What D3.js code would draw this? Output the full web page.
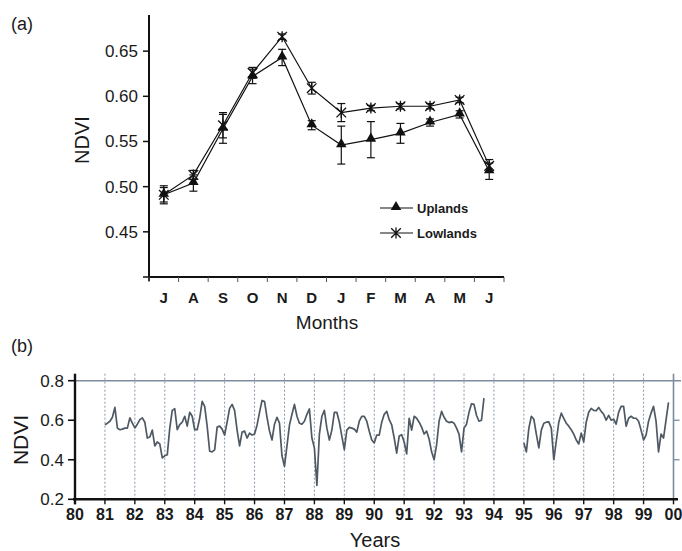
<!DOCTYPE html>
<html>
<head>
<meta charset="utf-8">
<script src="https://cdn.jsdelivr.net/npm/d3@7/dist/d3.min.js"></script>
<style>
    body { margin: 0; background: #fff; }
    svg text { font-family: "Liberation Sans", Arial, sans-serif; fill: #1a1a1a; }
</style>
</head>
<body>
<div id="chart"></div>
<script>
'use strict';

// (a) monthly mean NDVI
var months = ["J", "A", "S", "O", "N", "D", "J", "F", "M", "A", "M", "J"];
var uplands = [0.491, 0.504, 0.564, 0.622, 0.643, 0.568, 0.546, 0.552, 0.559, 0.571, 0.580, 0.517];
var uplandsErr = [0.008, 0.009, 0.016, 0.008, 0.009, 0.005, 0.021, 0.020, 0.011, 0.004, 0.004, 0.009];
var lowlands = [0.491, 0.513, 0.568, 0.626, 0.666, 0.609, 0.582, 0.587, 0.589, 0.589, 0.596, 0.523];
var lowlandsErr = [0.010, 0.005, 0.014, 0.006, 0.003, 0.0065, 0.010, 0.003, 0.003, 0.003, 0.003, 0.007];
var ticksA = [0.45, 0.50, 0.55, 0.60, 0.65];

// (b) monthly NDVI series, Jan 1981 - Sep 1993 and Jan 1995 - Nov 1999
var start1 = 1981;
var series1 = [
    0.577, 0.585, 0.595, 0.615, 0.665, 0.560, 0.552, 0.555, 0.560, 0.560, 0.612, 0.585,
    0.561, 0.580, 0.603, 0.612, 0.590, 0.510, 0.515, 0.550, 0.470, 0.490, 0.480, 0.410,
    0.420, 0.425, 0.560, 0.650, 0.658, 0.552, 0.578, 0.590, 0.620, 0.570, 0.640, 0.620,
    0.552, 0.552, 0.610, 0.695, 0.670, 0.570, 0.443, 0.440, 0.450, 0.565, 0.570, 0.555,
    0.525, 0.590, 0.660, 0.680, 0.650, 0.550, 0.470, 0.540, 0.545, 0.510, 0.535, 0.525,
    0.530, 0.575, 0.640, 0.700, 0.695, 0.615, 0.545, 0.500, 0.580, 0.615, 0.585, 0.420,
    0.367, 0.470, 0.575, 0.630, 0.680, 0.620, 0.585, 0.580, 0.595, 0.630, 0.657, 0.510,
    0.460, 0.270, 0.530, 0.620, 0.650, 0.560, 0.500, 0.550, 0.640, 0.640, 0.590, 0.520,
    0.451, 0.550, 0.564, 0.560, 0.555, 0.540, 0.595, 0.620, 0.620, 0.595, 0.544, 0.500,
    0.485, 0.525, 0.525, 0.590, 0.630, 0.645, 0.603, 0.577, 0.510, 0.434, 0.520, 0.527,
    0.490, 0.430, 0.610, 0.550, 0.620, 0.610, 0.590, 0.565, 0.530, 0.545, 0.505, 0.440,
    0.400, 0.475, 0.595, 0.645, 0.615, 0.595, 0.588, 0.592, 0.585, 0.560, 0.530, 0.440,
    0.560, 0.580, 0.640, 0.683, 0.680, 0.625, 0.595, 0.600, 0.712
];
var start2 = 1995;
var series2 = [
    0.485, 0.440, 0.560, 0.620, 0.605, 0.530, 0.460, 0.550, 0.585, 0.590, 0.592, 0.560,
    0.400, 0.495, 0.590, 0.636, 0.610, 0.585, 0.570, 0.552, 0.530, 0.500, 0.480, 0.535,
    0.490, 0.590, 0.640, 0.660, 0.650, 0.648, 0.665, 0.645, 0.630, 0.600, 0.625, 0.600,
    0.605, 0.580, 0.640, 0.670, 0.670, 0.570, 0.610, 0.620, 0.610, 0.610, 0.595, 0.550,
    0.500, 0.525, 0.595, 0.636, 0.670, 0.595, 0.440, 0.530, 0.510, 0.600, 0.690
];
var years = d3.range(1980, 2001);
var yearLabels = ["80", "81", "82", "83", "84", "85", "86", "87", "88", "89",
    "90", "91", "92", "93", "94", "95", "96", "97", "98", "99", "00"];
var ticksB = [0.2, 0.4, 0.6, 0.8];

var W = 682, H = 551;
var svg = d3.select("#chart").append("svg")
    .attr("width", W)
    .attr("height", H);

//================
// panel (a)
//================
var xA = d3.scaleBand().domain(d3.range(months.length)).range([149, 504]);
var yA = d3.scaleLinear().domain([0.40, 0.69]).range([277, 15]);

var gA = svg.append("g");

// y axis
gA.append("line")
    .attr("x1", 149).attr("x2", 149)
    .attr("y1", yA(0.69)).attr("y2", yA(0.40) + 4)
    .attr("stroke", "#111").attr("stroke-width", 2);
gA.selectAll("line.ytick")
    .data(ticksA.concat([0.40]))
    .enter().append("line")
    .attr("class", "ytick")
    .attr("x1", 143).attr("x2", 149)
    .attr("y1", function (d) { return yA(d); })
    .attr("y2", function (d) { return yA(d); })
    .attr("stroke", "#111").attr("stroke-width", 1.5);
gA.selectAll("text.ylab")
    .data(ticksA)
    .enter().append("text")
    .attr("class", "ylab")
    .attr("x", 138)
    .attr("y", function (d) { return yA(d) + 6; })
    .attr("text-anchor", "end")
    .style("font-size", "17px")
    .text(function (d) { return d3.format(".2f")(d); });

// x axis
gA.append("line")
    .attr("x1", 149).attr("x2", 504)
    .attr("y1", 277).attr("y2", 277)
    .attr("stroke", "#111").attr("stroke-width", 2.2);
gA.selectAll("line.xtick")
    .data(d3.range(months.length + 1))
    .enter().append("line")
    .attr("class", "xtick")
    .attr("x1", function (d) { return d < months.length ? xA(d) : xA.range()[1]; })
    .attr("x2", function (d) { return d < months.length ? xA(d) : xA.range()[1]; })
    .attr("y1", 277).attr("y2", 282)
    .attr("stroke", "#555").attr("stroke-width", 1);
gA.selectAll("text.xlab")
    .data(months)
    .enter().append("text")
    .attr("class", "xlab")
    .attr("x", function (d, i) { return xA(i) + xA.bandwidth() / 2; })
    .attr("y", 303)
    .attr("text-anchor", "middle")
    .style("font-size", "15px")
    .style("font-weight", "bold")
    .text(function (d) { return d; });

gA.append("text")
    .attr("x", 327).attr("y", 329)
    .attr("text-anchor", "middle")
    .style("font-size", "19px")
    .text("Months");
gA.append("text")
    .attr("transform", "translate(89,140) rotate(-90)")
    .attr("text-anchor", "middle")
    .style("font-size", "20px")
    .text("NDVI");
gA.append("text")
    .attr("x", 11).attr("y", 30)
    .style("font-size", "18px")
    .text("(a)");

var cx = function (i) { return xA(i) + xA.bandwidth() / 2; };
var lineA = d3.line()
    .x(function (d, i) { return cx(i); })
    .y(function (d) { return yA(d); });

function errorBars(values, errs) {
    var g = gA.append("g");
    values.forEach(function (v, i) {
        var top = yA(v + errs[i]), bot = yA(v - errs[i]), x = cx(i);
        g.append("line").attr("x1", x).attr("x2", x).attr("y1", top).attr("y2", bot)
            .attr("stroke", "#111").attr("stroke-width", 1.2);
        [top, bot].forEach(function (y) {
            g.append("line").attr("x1", x - 4).attr("x2", x + 4).attr("y1", y).attr("y2", y)
                .attr("stroke", "#111").attr("stroke-width", 1.2);
        });
    });
}

errorBars(lowlands, lowlandsErr);
errorBars(uplands, uplandsErr);

gA.append("path").datum(lowlands)
    .attr("d", lineA)
    .attr("fill", "none").attr("stroke", "#111").attr("stroke-width", 1.2);
gA.append("path").datum(uplands)
    .attr("d", lineA)
    .attr("fill", "none").attr("stroke", "#111").attr("stroke-width", 1.2);

var triangle = d3.symbol().type(d3.symbolTriangle).size(48);
var starPath = "M0,-5.5V5.5M-4.8,-4.8L4.8,4.8M-4.8,4.8L4.8,-4.8";

gA.selectAll("path.tri")
    .data(uplands)
    .enter().append("path")
    .attr("class", "tri")
    .attr("d", triangle)
    .attr("transform", function (d, i) { return "translate(" + cx(i) + "," + (yA(d) - 1) + ")"; })
    .attr("fill", "#111");
gA.selectAll("path.star")
    .data(lowlands)
    .enter().append("path")
    .attr("class", "star")
    .attr("d", starPath)
    .attr("transform", function (d, i) { return "translate(" + cx(i) + "," + yA(d) + ")"; })
    .attr("stroke", "#111").attr("stroke-width", 1.3).attr("fill", "none");

// legend
var leg = gA.append("g").attr("transform", "translate(380,208)");
leg.append("line").attr("x1", 0).attr("x2", 33).attr("y1", 0).attr("y2", 0)
    .attr("stroke", "#111").attr("stroke-width", 1.2);
leg.append("path").attr("d", triangle).attr("transform", "translate(16,-1)").attr("fill", "#111");
leg.append("text").attr("x", 37).attr("y", 5)
    .style("font-size", "13px").style("font-weight", "bold").text("Uplands");
leg.append("line").attr("x1", 0).attr("x2", 33).attr("y1", 25).attr("y2", 25)
    .attr("stroke", "#111").attr("stroke-width", 1.2);
leg.append("path").attr("d", starPath).attr("transform", "translate(16,25)")
    .attr("stroke", "#111").attr("stroke-width", 1.3).attr("fill", "none");
leg.append("text").attr("x", 37).attr("y", 30)
    .style("font-size", "13px").style("font-weight", "bold").text("Lowlands");

//================
// panel (b)
//================
var xB = d3.scaleLinear().domain([1980, 2000]).range([75, 673.5]);
var yB = d3.scaleLinear().domain([0.2, 0.8]).range([499.3, 380.7]);
var grey = "#7d8c9c";

var gB = svg.append("g");

// dashed year lines
gB.selectAll("line.yr")
    .data(years.slice(1, -1))
    .enter().append("line")
    .attr("class", "yr")
    .attr("x1", function (d) { return xB(d); })
    .attr("x2", function (d) { return xB(d); })
    .attr("y1", yB(0.8) - 7).attr("y2", yB(0.2))
    .attr("stroke", "#8797ab").attr("stroke-width", 1)
    .attr("stroke-dasharray", "2,2");

// top line and right axis
gB.append("line")
    .attr("x1", 75).attr("x2", 681)
    .attr("y1", yB(0.8)).attr("y2", yB(0.8))
    .attr("stroke", grey).attr("stroke-width", 1.6);
gB.append("line")
    .attr("x1", xB(2000)).attr("x2", xB(2000))
    .attr("y1", yB(0.8) - 7).attr("y2", yB(0.2))
    .attr("stroke", grey).attr("stroke-width", 1.6);
gB.selectAll("line.rtick")
    .data([0.4, 0.6])
    .enter().append("line")
    .attr("class", "rtick")
    .attr("x1", xB(2000)).attr("x2", xB(2000) + 6)
    .attr("y1", function (d) { return yB(d); })
    .attr("y2", function (d) { return yB(d); })
    .attr("stroke", grey).attr("stroke-width", 1.3);

// left axis
gB.append("line")
    .attr("x1", 75).attr("x2", 75)
    .attr("y1", yB(0.8) - 7).attr("y2", yB(0.2) + 5)
    .attr("stroke", "#111").attr("stroke-width", 2.4);
gB.selectAll("line.ltick")
    .data(ticksB)
    .enter().append("line")
    .attr("class", "ltick")
    .attr("x1", 68).attr("x2", 75)
    .attr("y1", function (d) { return yB(d); })
    .attr("y2", function (d) { return yB(d); })
    .attr("stroke", "#111").attr("stroke-width", 1.6);
gB.selectAll("text.ylab")
    .data(ticksB)
    .enter().append("text")
    .attr("class", "ylab")
    .attr("x", 64)
    .attr("y", function (d) { return yB(d) + 6; })
    .attr("text-anchor", "end")
    .style("font-size", "17px")
    .text(function (d) { return d3.format(".1f")(d); });

// bottom axis
gB.append("line")
    .attr("x1", 73).attr("x2", 678)
    .attr("y1", yB(0.2)).attr("y2", yB(0.2))
    .attr("stroke", "#111").attr("stroke-width", 2.6);
gB.selectAll("line.btick")
    .data(years)
    .enter().append("line")
    .attr("class", "btick")
    .attr("x1", function (d) { return xB(d); })
    .attr("x2", function (d) { return xB(d); })
    .attr("y1", yB(0.2)).attr("y2", yB(0.2) + 5)
    .attr("stroke", "#111").attr("stroke-width", 1.4);
gB.selectAll("text.xlab")
    .data(years)
    .enter().append("text")
    .attr("class", "xlab")
    .attr("x", function (d) { return xB(d); })
    .attr("y", 520)
    .attr("text-anchor", "middle")
    .style("font-size", "16px")
    .style("font-weight", "bold")
    .text(function (d, i) { return yearLabels[i]; });

gB.append("text")
    .attr("x", 375).attr("y", 547)
    .attr("text-anchor", "middle")
    .style("font-size", "20px")
    .text("Years");
gB.append("text")
    .attr("transform", "translate(28,440) rotate(-90)")
    .attr("text-anchor", "middle")
    .style("font-size", "21px")
    .text("NDVI");
gB.append("text")
    .attr("x", 11).attr("y", 352)
    .style("font-size", "18px")
    .text("(b)");

// the series, one path per run of data
var lineB = d3.line()
    .x(function (d) { return xB(d.t); })
    .y(function (d) { return yB(d.v); });

[[start1, series1], [start2, series2]].forEach(function (s) {
    var pts = s[1].map(function (v, i) { return { t: s[0] + i / 12, v: v }; });
    gB.append("path").datum(pts)
        .attr("d", lineB)
        .attr("fill", "none")
        .attr("stroke", "#4f5963")
        .attr("stroke-width", 1.7)
        .attr("stroke-linejoin", "round");
});
</script>
</body>
</html>
